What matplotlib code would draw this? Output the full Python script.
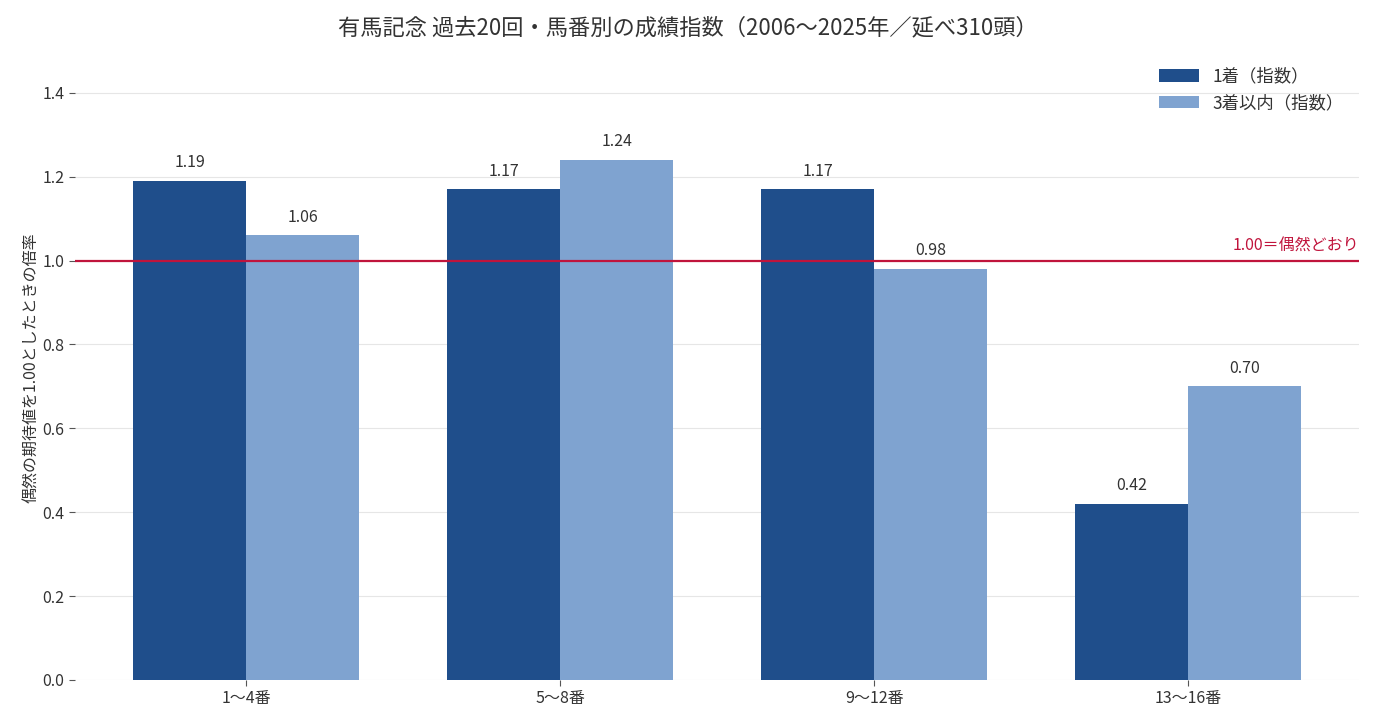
import matplotlib
matplotlib.use("Agg")
import matplotlib.pyplot as plt
import numpy as np

plt.rcParams['font.family'] = ['Noto Sans CJK JP', 'DejaVu Sans']

groups = ['1〜4番', '5〜8番', '9〜12番', '13〜16番']
win_index = [1.19, 1.17, 1.17, 0.42]
top3_index = [1.06, 1.24, 0.98, 0.70]

dark = '#1f4e8b'
light = '#7fa3d0'
txt = '#333333'

fig = plt.figure(figsize=(13.76, 7.2), dpi=100)
ax = fig.add_axes([0.0545, 0.0556, 0.9335, 0.868])

x = np.arange(len(groups))
w = 0.36
b1 = ax.bar(x - w/2, win_index, w, color=dark, label='1着（指数）', zorder=2)
b2 = ax.bar(x + w/2, top3_index, w, color=light, label='3着以内（指数）', zorder=2)

for bars in (b1, b2):
    for r in bars:
        ax.annotate(f'{r.get_height():.2f}', (r.get_x() + r.get_width()/2, r.get_height()),
                    xytext=(0, 7), textcoords='offset points', ha='center', va='bottom',
                    fontsize=11.5, color=txt)

ax.axhline(1.0, color='#c0143c', lw=1.6, zorder=3)
ax.text(1.0, 1.015, '1.00＝偶然どおり', transform=ax.get_yaxis_transform(),
        ha='right', va='bottom', fontsize=11.5, color='#c0143c')

ax.set_ylim(0, 1.49)
ax.set_yticks([0, 0.2, 0.4, 0.6, 0.8, 1.0, 1.2, 1.4])
ax.set_xticks(x)
ax.set_xticklabels(groups)
ax.tick_params(colors=txt, labelsize=11.5, length=4, color='#555555')
ax.grid(axis='y', color='#e6e6e6', lw=0.8, zorder=0)
ax.set_axisbelow(True)
for s in ax.spines.values():
    s.set_visible(False)

ax.set_ylabel('偶然の期待値を1.00としたときの倍率', fontsize=11.5, color=txt, labelpad=2)
fig.suptitle('有馬記念 過去20回・馬番別の成績指数（2006〜2025年／延べ310頭）',
             fontsize=16, color=txt, y=0.978)
ax.legend(loc='upper right', frameon=False, fontsize=12.5, bbox_to_anchor=(1.0, 1.005),
          handlelength=2.3, labelcolor=txt)

fig.savefig('out.png', dpi=100, facecolor='white')
